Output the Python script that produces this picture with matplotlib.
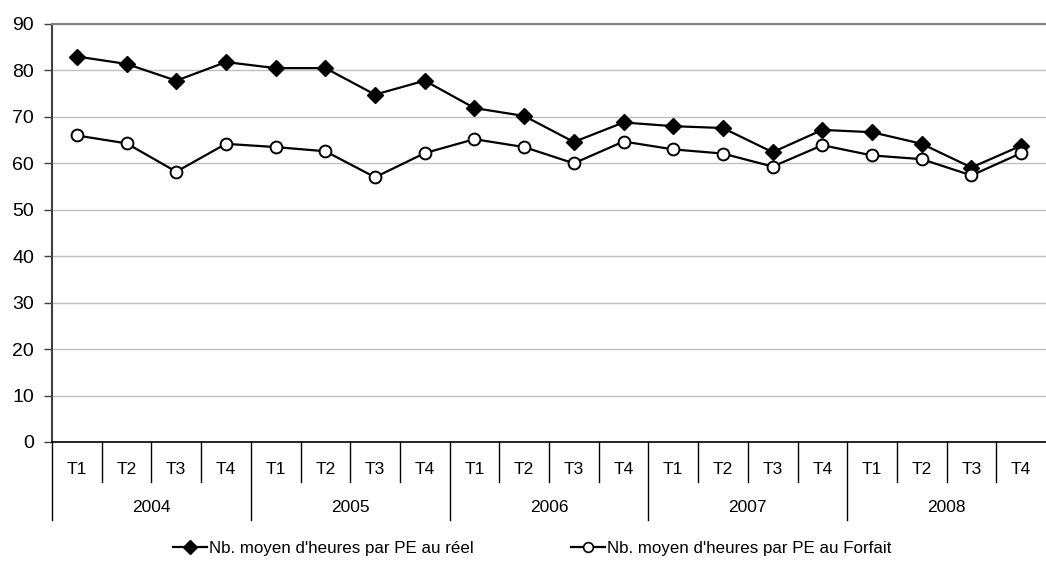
import matplotlib
matplotlib.use("Agg")
import matplotlib.pyplot as plt
from matplotlib import transforms
from matplotlib.lines import Line2D

plt.rcParams['font.family'] = ['Liberation Sans', 'DejaVu Sans']

years = ["2004", "2005", "2006", "2007", "2008"]
quarters = ["T1", "T2", "T3", "T4"]

reel = [83.0, 81.4, 77.8, 81.8,
        80.5, 80.5, 74.8, 77.8,
        71.9, 70.2, 64.6, 68.8,
        68.0, 67.6, 62.4, 67.2,
        66.7, 64.2, 59.1, 63.8]
forfait = [66.0, 64.3, 58.2, 64.2,
           63.5, 62.6, 57.0, 62.2,
           65.2, 63.5, 60.0, 64.7,
           63.0, 62.1, 59.3, 63.9,
           61.7, 60.9, 57.4, 62.2]

label_reel = "Nb. moyen d'heures par PE au réel"
label_forfait = "Nb. moyen d'heures par PE au Forfait"

W, H = 1046, 580
fig = plt.figure(figsize=(W / 100, H / 100), dpi=100)
ax = fig.add_axes([52 / W, 1 - 442 / H, 1 - 52 / W, (442 - 24) / H])

x = list(range(len(reel)))
ax.plot(x, reel, color='black', linewidth=1.6, marker='D', markersize=8.5,
        markerfacecolor='black', markeredgecolor='black', zorder=3, clip_on=False)
ax.plot(x, forfait, color='black', linewidth=1.6, marker='o', markersize=8.5,
        markerfacecolor='white', markeredgecolor='black', markeredgewidth=1.4,
        zorder=3, clip_on=False)

ax.set_xlim(-0.5, len(x) - 0.5)
ax.set_ylim(0, 90)
ax.set_yticks(range(0, 91, 10))
ax.tick_params(axis='y', labelsize=14, length=6, width=1, color='#404040', pad=7)
ax.set_xticks([])
ax.yaxis.grid(True, color='#c0c0c0', linewidth=1)
ax.set_axisbelow(True)

ax.spines['right'].set_visible(False)
ax.spines['top'].set_color('#808080')
ax.spines['top'].set_linewidth(1.5)
ax.spines['left'].set_color('#404040')
ax.spines['left'].set_linewidth(1.5)
ax.spines['bottom'].set_color('black')
ax.spines['bottom'].set_linewidth(1.2)

# multi-level category axis
tr = transforms.blended_transform_factory(ax.transData, fig.transFigure)
y0 = 1 - 442 / H
y_q = 1 - 482 / H
y_y = 1 - 520 / H
for i in range(len(x)):
    ax.text(i, 1 - 470 / H, quarters[i % 4], transform=tr, ha='center',
            va='center', fontsize=12.5)
    if i == 0:
        continue
    bottom = y_y if i % 4 == 0 else y_q
    ax.add_line(Line2D([i - 0.5, i - 0.5], [y0, bottom], transform=tr,
                       color='black', linewidth=1, clip_on=False))
ax.add_line(Line2D([-0.5, -0.5], [y0, y_y], transform=tr,
                   color='black', linewidth=1, clip_on=False))
for k, yr in enumerate(years):
    ax.text(4 * k + 1.5, 1 - 508 / H, yr, transform=tr, ha='center',
            va='center', fontsize=12.5)

# legend
h1 = Line2D([], [], color='black', linewidth=1.6, marker='D', markersize=7,
            markerfacecolor='black')
h2 = Line2D([], [], color='black', linewidth=1.6, marker='o', markersize=7,
            markerfacecolor='white', markeredgewidth=1.2)
for h, lab, xpos in [(h1, label_reel, 173), (h2, label_forfait, 571)]:
    fig.legend([h], [lab], loc='center left',
               bbox_to_anchor=(xpos / W, 1 - 548 / H), frameon=False,
               fontsize=12.2, handlelength=2.0, handletextpad=0.15,
               borderpad=0, borderaxespad=0)

fig.savefig("out.png", dpi=100)
